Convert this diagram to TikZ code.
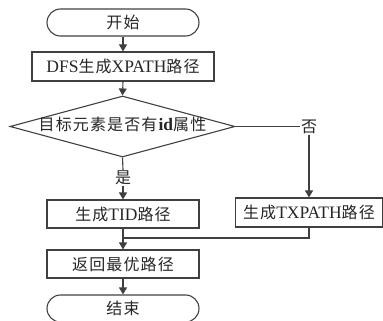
\documentclass[tikz,border=0pt]{standalone}
\usepackage{fontspec}
\setmainfont{Liberation Serif}
\newfontfamily\cjkfam[LetterSpace=7]{Noto Sans CJK SC}
\newcommand\cjk{\cjkfam\fontsize{16}{19}\selectfont}
\usetikzlibrary{shapes.geometric,shapes.misc,arrows.meta}
\tikzset{
  every node/.style={font=\fontsize{17.5}{19}\selectfont, text=black!85},
  ln/.style={draw=black!75, line width=1.1pt},
  arr/.style={ln, -{Triangle[length=7pt,width=8pt]}},
  term/.style={ln, rounded rectangle, minimum width=152pt, minimum height=27pt, inner sep=0pt},
  box/.style={ln, rectangle, minimum height=28pt, inner sep=0pt},
  dec/.style={ln, diamond, aspect=3.69, minimum width=225pt, minimum height=61pt, inner sep=0pt, text height=10pt, text depth=2pt},
  lbl/.style={inner sep=1pt}
}
\begin{document}
\begin{tikzpicture}[x=1pt,y=1pt]
\useasboundingbox (0,0) rectangle (383,-321);
\node[term] (start) at (123,-22.5) {\cjk 开始};
\node[box, minimum width=182pt, minimum height=29pt] (dfs) at (123,-66.5) {DFS{\cjk 生成}XPATH{\cjk 路径}};
\node[dec] (cond) at (122.5,-126.5) {{\cjk 目标元素是否有}\textbf{id}{\cjk 属性}};
\node[lbl] (no) at (309,-126.5) {\cjk 否};
\node[lbl] (yes) at (123,-178) {\cjk 是};
\node[box, minimum width=152pt] (tid) at (123,-214) {{\cjk 生成}TID{\cjk 路径}};
\node[box, minimum width=147pt, minimum height=29pt] (tx) at (309,-212.5) {{\cjk 生成}TXPATH{\cjk 路径}};
\node[box, minimum width=152pt] (ret) at (123,-264) {\cjk 返回最优路径};
\node[term] (end) at (123,-308.5) {\cjk 结束};
\coordinate (m) at (123,-238);
\draw[arr] (start.south) -- (dfs.north);
\draw[arr] (dfs.south) -- (cond.north);
\draw[ln] (cond.east) -- (no.west);
\draw[arr] (no.south) -- (tx.north);
\draw[ln] (cond.south) -- (yes.north);
\draw[arr] (yes.south) -- (tid.north);
\draw[arr] (tid.south) -- (ret.north);
\draw[ln] (tx.south) |- (m);
\draw[arr] (ret.south) -- (end.north);
\end{tikzpicture}
\end{document}
